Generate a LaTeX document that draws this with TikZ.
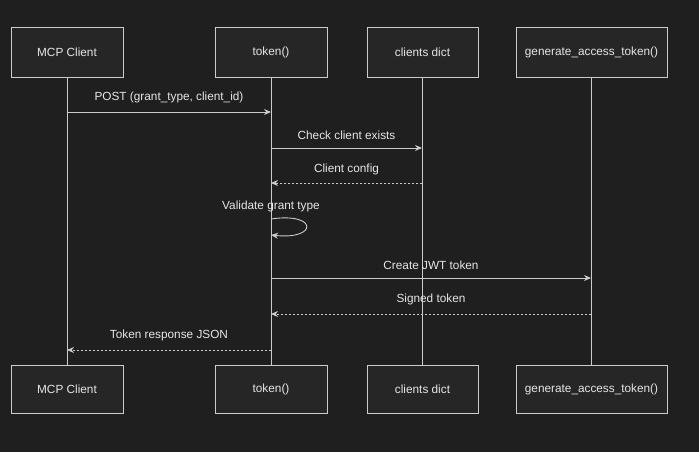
\documentclass[tikz,border=0pt]{standalone}
\usepackage{fontspec}
\setmainfont{Liberation Sans}
\usetikzlibrary{arrows.meta}
\definecolor{bg}{HTML}{1F1F1F}
\definecolor{boxf}{HTML}{262626}
\definecolor{ln}{HTML}{CCCCCC}
\definecolor{tx}{HTML}{E6E6E6}
\begin{document}
\begin{tikzpicture}[x=1pt,y=-1pt,
  actor/.style={draw=ln,fill=boxf,line width=0.8pt,minimum height=50pt,inner sep=0pt,text=tx,font=\fontsize{11.8}{13}\selectfont},
  life/.style={draw=ln,line width=1pt},
  msg/.style={draw=ln,line width=0.9pt,-{Stealth[length=7pt,width=6pt]}},
  ret/.style={msg,dash pattern=on 2pt off 2pt},
  lbl/.style={text=tx,font=\fontsize{11.8}{13}\selectfont}]
\fill[bg] (0,0) rectangle (699,452);
\useasboundingbox (0,0) rectangle (699,452);
\node[actor,minimum width=112pt] (a1) at (67,52) {MCP Client};
\node[actor,minimum width=112pt] (a2) at (271,52) {token()};
\node[actor,minimum width=111pt] (a3) at (422.5,52) {clients dict};
\node[actor,minimum width=151pt] (a4) at (591.5,52) {generate\_access\_token()};
\node[actor,minimum width=112pt,minimum height=48pt] (b1) at (67,389) {MCP Client};
\node[actor,minimum width=112pt,minimum height=48pt] (b2) at (271,389) {token()};
\node[actor,minimum width=111pt,minimum height=48pt] (b3) at (422.5,389) {clients dict};
\node[actor,minimum width=151pt,minimum height=48pt] (b4) at (591.5,389) {generate\_access\_token()};
\foreach \i in {1,2,3,4}{\draw[life] (a\i.south) -- (b\i.north);}
\coordinate (p1) at (67,112); \coordinate (q1) at (271,112);
\draw[msg] (p1) -- (q1) node[lbl,midway,above=5pt] {POST (grant\_type, client\_id)};
\coordinate (p2) at (271,148); \coordinate (q2) at (422,148);
\draw[msg] (p2) -- (q2) node[lbl,midway,above=5pt] {Check client exists};
\coordinate (p3) at (422,183); \coordinate (q3) at (271,183);
\draw[ret] (p3) -- (q3) node[lbl,midway,above=4pt] {Client config};
\node[lbl] (v) at (271,206) {Validate grant type};
\coordinate (s1) at (271,219); \coordinate (s2) at (271,235);
\draw[msg] (s1) .. controls (318,212) and (318,240) .. (s2);
\coordinate (p4) at (271,278); \coordinate (q4) at (591,278);
\draw[msg] (p4) -- (q4) node[lbl,midway,above=5pt] {Create JWT token};
\coordinate (p5) at (591,314); \coordinate (q5) at (271,314);
\draw[ret] (p5) -- (q5) node[lbl,midway,above=5pt] {Signed token};
\coordinate (p6) at (271,350); \coordinate (q6) at (67,350);
\draw[ret] (p6) -- (q6) node[lbl,midway,above=5pt] {Token response JSON};
\end{tikzpicture}
\end{document}
